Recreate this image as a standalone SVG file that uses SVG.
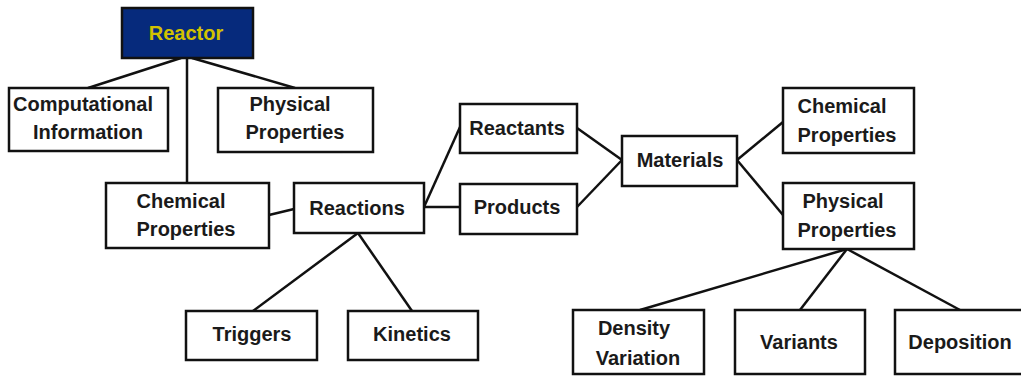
<svg xmlns="http://www.w3.org/2000/svg" width="1021" height="376" viewBox="0 0 1021 376">
<style>
.box{fill:#fff;stroke:#111;stroke-width:2.5}
.root{fill:#062a7c;stroke:#111;stroke-width:2.5}
.t{font-family:"Liberation Sans",Arial,sans-serif;font-weight:bold;font-size:20px;fill:#1a1a1a;text-anchor:middle}
.rt{fill:#d2c200}
.c{stroke:#111;stroke-width:2.5;fill:none}
</style>
<rect width="1021" height="376" fill="#fff"/>
<g id="connectors">
<line class="c" x1="181" y1="58" x2="88" y2="88"/>
<line class="c" x1="192" y1="58" x2="295" y2="88"/>
<line class="c" x1="187" y1="58" x2="187" y2="183"/>
<line class="c" x1="269" y1="215" x2="294" y2="209"/>
<line class="c" x1="424" y1="207" x2="460" y2="127"/>
<line class="c" x1="424" y1="207" x2="460" y2="207"/>
<line class="c" x1="577" y1="128" x2="622" y2="160"/>
<line class="c" x1="577" y1="207" x2="622" y2="160"/>
<line class="c" x1="737" y1="160" x2="783" y2="122"/>
<line class="c" x1="737" y1="160" x2="783" y2="215"/>
<line class="c" x1="358" y1="233" x2="253" y2="311"/>
<line class="c" x1="358" y1="233" x2="412" y2="311"/>
<line class="c" x1="847" y1="249" x2="640" y2="310"/>
<line class="c" x1="847" y1="249" x2="800" y2="310"/>
<line class="c" x1="847" y1="249" x2="960" y2="310"/>
</g>
<g id="reactor">
<rect class="root" x="122" y="8" width="131" height="50"/>
<text class="t rt" x="186" y="40">Reactor</text>
</g>
<g id="computational-information">
<rect class="box" x="9" y="88" width="159" height="63"/>
<text class="t" x="83" y="111">Computational</text>
<text class="t" x="88" y="139">Information</text>
</g>
<g id="physical-properties-top">
<rect class="box" x="218" y="88" width="155" height="64"/>
<text class="t" x="290" y="111">Physical</text>
<text class="t" x="295" y="139">Properties</text>
</g>
<g id="chemical-properties-left">
<rect class="box" x="106" y="183" width="163" height="65"/>
<text class="t" x="181" y="208">Chemical</text>
<text class="t" x="186" y="236">Properties</text>
</g>
<g id="reactions">
<rect class="box" x="294" y="183" width="130" height="50"/>
<text class="t" x="357" y="215">Reactions</text>
</g>
<g id="reactants">
<rect class="box" x="460" y="104" width="117" height="49"/>
<text class="t" x="517" y="135">Reactants</text>
</g>
<g id="products">
<rect class="box" x="460" y="184" width="117" height="50"/>
<text class="t" x="517" y="214">Products</text>
</g>
<g id="materials">
<rect class="box" x="622" y="136" width="115" height="50"/>
<text class="t" x="680" y="167">Materials</text>
</g>
<g id="chemical-properties-right">
<rect class="box" x="783" y="88" width="131" height="65"/>
<text class="t" x="842" y="113">Chemical</text>
<text class="t" x="847" y="142">Properties</text>
</g>
<g id="physical-properties-right">
<rect class="box" x="783" y="183" width="131" height="66"/>
<text class="t" x="843" y="208">Physical</text>
<text class="t" x="847" y="237">Properties</text>
</g>
<g id="triggers">
<rect class="box" x="186" y="311" width="131" height="49"/>
<text class="t" x="252" y="341">Triggers</text>
</g>
<g id="kinetics">
<rect class="box" x="348" y="311" width="130" height="49"/>
<text class="t" x="412" y="341">Kinetics</text>
</g>
<g id="density-variation">
<rect class="box" x="573" y="310" width="131" height="64"/>
<text class="t" x="634" y="335">Density</text>
<text class="t" x="638" y="365">Variation</text>
</g>
<g id="variants">
<rect class="box" x="735" y="310" width="130" height="64"/>
<text class="t" x="799" y="349">Variants</text>
</g>
<g id="deposition">
<rect class="box" x="895" y="310" width="131" height="64"/>
<text class="t" x="960" y="349">Deposition</text>
</g>
</svg>
